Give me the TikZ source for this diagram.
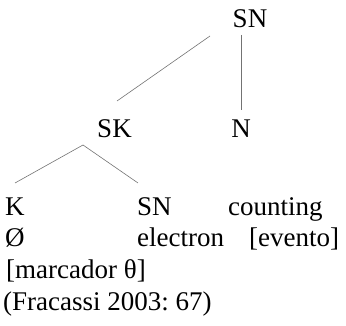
\documentclass[tikz,border=0pt]{standalone}
\usepackage{fontspec}
\setmainfont{Liberation Serif}
\begin{document}
\begin{tikzpicture}[x=1pt,y=1pt,
  lbl/.style={inner sep=0pt,font=\fontsize{27}{32}\selectfont},
  branch/.style={draw=black!55,line width=0.6pt}]
\useasboundingbox (0,0) rectangle (346,326);
% tree labels
\node[lbl,anchor=base] (snTop) at (250,298) {SN};
\node[lbl,anchor=base] (sk) at (114.5,188) {SK};
\node[lbl,anchor=base] (n) at (241,188) {N};
\node[lbl,anchor=base west] (k) at (5,110) {K};
\node[lbl,anchor=base west] (snLow) at (137,110) {SN};
\node[lbl,anchor=base west] (counting) at (228,110) {counting};
% glosses
\node[lbl,anchor=base west] (empty) at (5,79) {Ø};
\node[lbl,anchor=base west] (electron) at (137,79) {electron};
\node[lbl,anchor=base west] (evento) at (249,79) {[evento]};
\node[lbl,anchor=base west] (marcador) at (6,47) {[marcador θ]};
\node[lbl,anchor=base west] (source) at (3,15) {(Fracassi 2003:\ 67)};
% branch end points
\coordinate (snTopL) at (210,290);
\coordinate (snTopB) at (241,291);
\coordinate (skTopR) at (117,225);
\coordinate (nTop) at (241,216);
\coordinate (skBot) at (83,181);
\coordinate (kTop) at (15,143);
\coordinate (snLowTop) at (138,143);
% branches
\draw[branch] (snTopL) -- (skTopR);
\draw[branch] (snTopB) -- (nTop);
\draw[branch] (skBot) -- (kTop);
\draw[branch] (skBot) -- (snLowTop);
\end{tikzpicture}
\end{document}
